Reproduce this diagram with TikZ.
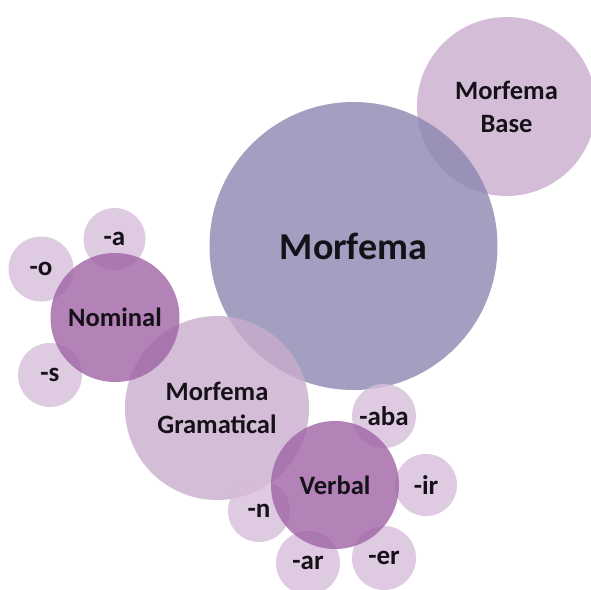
\documentclass[tikz,border=0pt]{standalone}
\usepackage{fontspec}
\setmainfont{Carlito}
\definecolor{cmain}{RGB}{140,135,178}
\definecolor{cmid}{RGB}{201,172,205}
\definecolor{cdark}{RGB}{160,100,166}
\definecolor{csmall}{RGB}{214,190,217}
\definecolor{ctext}{RGB}{22,16,24}
\tikzset{
  bub/.style={circle,inner sep=0pt,fill opacity=0.8,text opacity=1,text=ctext,font=\bfseries,align=center},
  bigbub/.style={bub,fill=cmain,font=\bfseries\fontsize{38}{40}\selectfont},
  midbub/.style={bub,fill=cmid,font=\bfseries\fontsize{26.5}{33}\selectfont},
  darkbub/.style={bub,fill=cdark,font=\bfseries\fontsize{26.5}{33}\selectfont},
  smallbub/.style={bub,fill=csmall,font=\bfseries\fontsize{27}{30}\selectfont},
}
\begin{document}
\begin{tikzpicture}[x=1pt,y=-1pt]
\useasboundingbox (0,0) rectangle (591,589);
\clip (0,0) rectangle (591,589);
\node[midbub,minimum size=179pt] (base) at (506.5,106.5) {Morfema\\Base};
\node[bigbub,minimum size=288pt] (morf) at (353.5,246) {Morfema};
\node[midbub,minimum size=184pt] (gram) at (217,408) {Morfema\\Gramatical};
\node[smallbub,minimum size=62pt] (sa) at (114.5,239) {-a};
\node[smallbub,minimum size=65pt] (so) at (41,269) {-o};
\node[smallbub,minimum size=64pt] (ss) at (50,375) {-s};
\node[darkbub,minimum size=129pt] (nom) at (115,317.5) {Nominal};
\node[smallbub,minimum size=64pt] (aba) at (384,416) {-aba};
\node[smallbub,minimum size=62pt] (ir) at (426,485) {-ir};
\node[smallbub,minimum size=64pt] (er) at (384,558) {-er};
\node[smallbub,minimum size=64pt] (ar) at (308,563) {-ar};
\node[smallbub,minimum size=62pt] (n) at (259,511) {-n};
\node[darkbub,minimum size=128pt] (verb) at (335,485) {Verbal};
\end{tikzpicture}
\end{document}
